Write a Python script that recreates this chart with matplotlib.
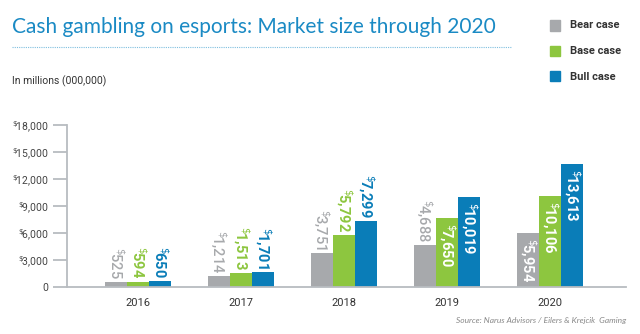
import numpy as np
import matplotlib.pyplot as plt
from matplotlib.lines import Line2D

years = ["2016", "2017", "2018", "2019", "2020"]
series_names = ["Bear case", "Base case", "Bull case"]
bear = [525, 1214, 3751, 4688, 5954]
base = [594, 1513, 5792, 7650, 10106]
bull = [650, 1701, 7299, 10019, 13613]
y_ticks = [0, 3000, 6000, 9000, 12000, 15000, 18000]

colors = ["#a7a9ac", "#8dc63f", "#0a7db8"]
# which labels sit inside their bar (rows = series, cols = years)
label_inside = [
    [False, False, False, False, True],
    [False, False, False, True, True],
    [False, False, False, True, True],
]


def money(v):
    return r"$^{\$\!}$" + f"{v:,}"


fig = plt.figure(figsize=(6.4, 3.34), dpi=100)
ax = fig.add_axes([67 / 640, 1 - 287 / 334, (626 - 67) / 640, (287 - 125) / 334])

x = np.arange(len(years))
w = 0.214
px = 18000 / 162  # data units per pixel

for i, vals in enumerate([bear, base, bull]):
    xs = x + (i - 1) * w
    ax.bar(xs, vals, width=w, color=colors[i], linewidth=0)
    for j, v in enumerate(vals):
        if label_inside[i][j]:
            ax.text(xs[j], v - 5 * px, money(v), rotation=-90, ha="center", va="top",
                    color="white", fontsize=10.5, fontweight="bold", family="Roboto")
        else:
            ax.text(xs[j], v + 3 * px, money(v), rotation=-90, ha="center", va="bottom",
                    color=colors[i], fontsize=10.5,
                    fontweight="medium" if i == 0 else "bold", family="Roboto")

ax.set_xlim(-0.69, 4.74)
ax.set_ylim(0, 18000)
ax.set_xticks(x)
ax.set_xticklabels(years, fontsize=8, color="#333333", family="Roboto")
ax.set_yticks(y_ticks)
ax.set_yticklabels(["0"] + [money(v) for v in y_ticks[1:]], fontsize=7.5,
                   color="#444444", family="Roboto")
ax.tick_params(axis="x", length=0, pad=8)
ax.tick_params(axis="y", length=10, width=1.3, color="#b8bcc0", pad=3.5)
for s in ["top", "right"]:
    ax.spines[s].set_visible(False)
for s in ["left", "bottom"]:
    ax.spines[s].set_color("#b8bcc0")
    ax.spines[s].set_linewidth(1.3)

fig.text(12 / 640, 1 - 33 / 334, "Cash gambling on esports: Market size through 2020",
         fontsize=15, color="#1a8ac4", family="Lato", fontweight="normal",
         ha="left", va="baseline")
fig.add_artist(Line2D([12 / 640, 512 / 640], [1 - 47 / 334, 1 - 47 / 334],
                      color="#7fbfdf", linewidth=0.8, linestyle=(0, (1, 1))))
fig.text(12 / 640, 1 - 81 / 334, "In millions (000,000)", fontsize=7.5,
         color="#333333", family="Roboto", ha="left", va="center")

for i, name in enumerate(series_names):
    yc = 1 - (25.5 + i * 25.5) / 334
    fig.patches.append(plt.Rectangle((550 / 640, yc - 5 / 334), 10 / 640, 10 / 334,
                                     transform=fig.transFigure, color=colors[i]))
    fig.text(570 / 640, yc, name, fontsize=8, fontweight="bold", color="#333333",
             family="Roboto", ha="left", va="center")

fig.text(626 / 640, 1 - 320 / 334, "Source: Narus Advisors / Eilers & Krejcik  Gaming",
         fontsize=6, style="italic", color="#888888", family="Lato",
         ha="right", va="center")

fig.savefig("out.png", dpi=100)
